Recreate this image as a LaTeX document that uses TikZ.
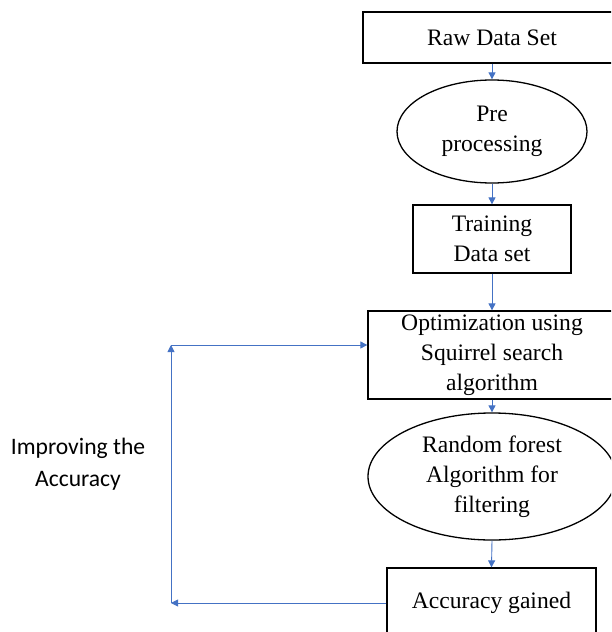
\documentclass[tikz,border=0pt]{standalone}
\usepackage{fontspec}
\setmainfont{Liberation Serif}
\newfontfamily\carl{Carlito}
\usetikzlibrary{shapes.geometric,arrows.meta}
\definecolor{linkblue}{RGB}{68,114,196}
\tikzset{
  boxnode/.style={draw=black,line width=1.3pt,rectangle,inner sep=0pt,align=center,
    font=\fontsize{23.6}{30}\selectfont},
  ellnode/.style={draw=black,line width=1.3pt,ellipse,inner sep=0pt,align=center,
    font=\fontsize{23.6}{30}\selectfont},
  flow/.style={draw=linkblue,line width=0.9pt,-{Triangle[length=7pt,width=7pt]}},
  plainflow/.style={draw=linkblue,line width=0.9pt}
}
\begin{document}
\begin{tikzpicture}[x=1pt,y=-1pt]
\useasboundingbox (0,0) rectangle (611,632);
\clip (0,0) rectangle (611,632);
\node[boxnode,minimum width=258pt,minimum height=51pt] (raw) at (492,37.5) {Raw Data Set};
\node[ellnode,minimum width=190pt,minimum height=103pt] (pre) at (492,131.5) {Pre\\processing};
\node[boxnode,minimum width=158pt,minimum height=68pt] (train) at (492,239) {Training\\Data set};
\node[boxnode,minimum width=248pt,minimum height=88pt] (opt) at (492,355) {Optimization using\\Squirrel search\\algorithm};
\node[ellnode,minimum width=248pt,minimum height=127pt] (rf) at (492,476.5) {Random forest\\Algorithm for\\filtering};
\node[boxnode,minimum width=209pt,minimum height=70pt] (acc) at (491.5,603) {Accuracy gained};
\node[font=\carl\fontsize{23.6}{32}\selectfont,align=center,inner sep=0pt] (imp) at (78,464) {Improving the\\Accuracy};
\coordinate (bl) at (171,603);
\coordinate (tl) at (171,345);
\draw[flow] (raw.south) -- (pre.north);
\draw[flow] (pre.south) -- (train.north);
\draw[flow] (train.south) -- (opt.north);
\draw[flow] (opt.south) -- (rf.north);
\draw[flow] (rf.south) -- (acc.north);
\draw[flow] (acc.west) -- (bl);
\draw[flow] (bl) -- (tl);
\draw[flow] (tl) -- (opt.west |- tl);
\end{tikzpicture}
\end{document}
